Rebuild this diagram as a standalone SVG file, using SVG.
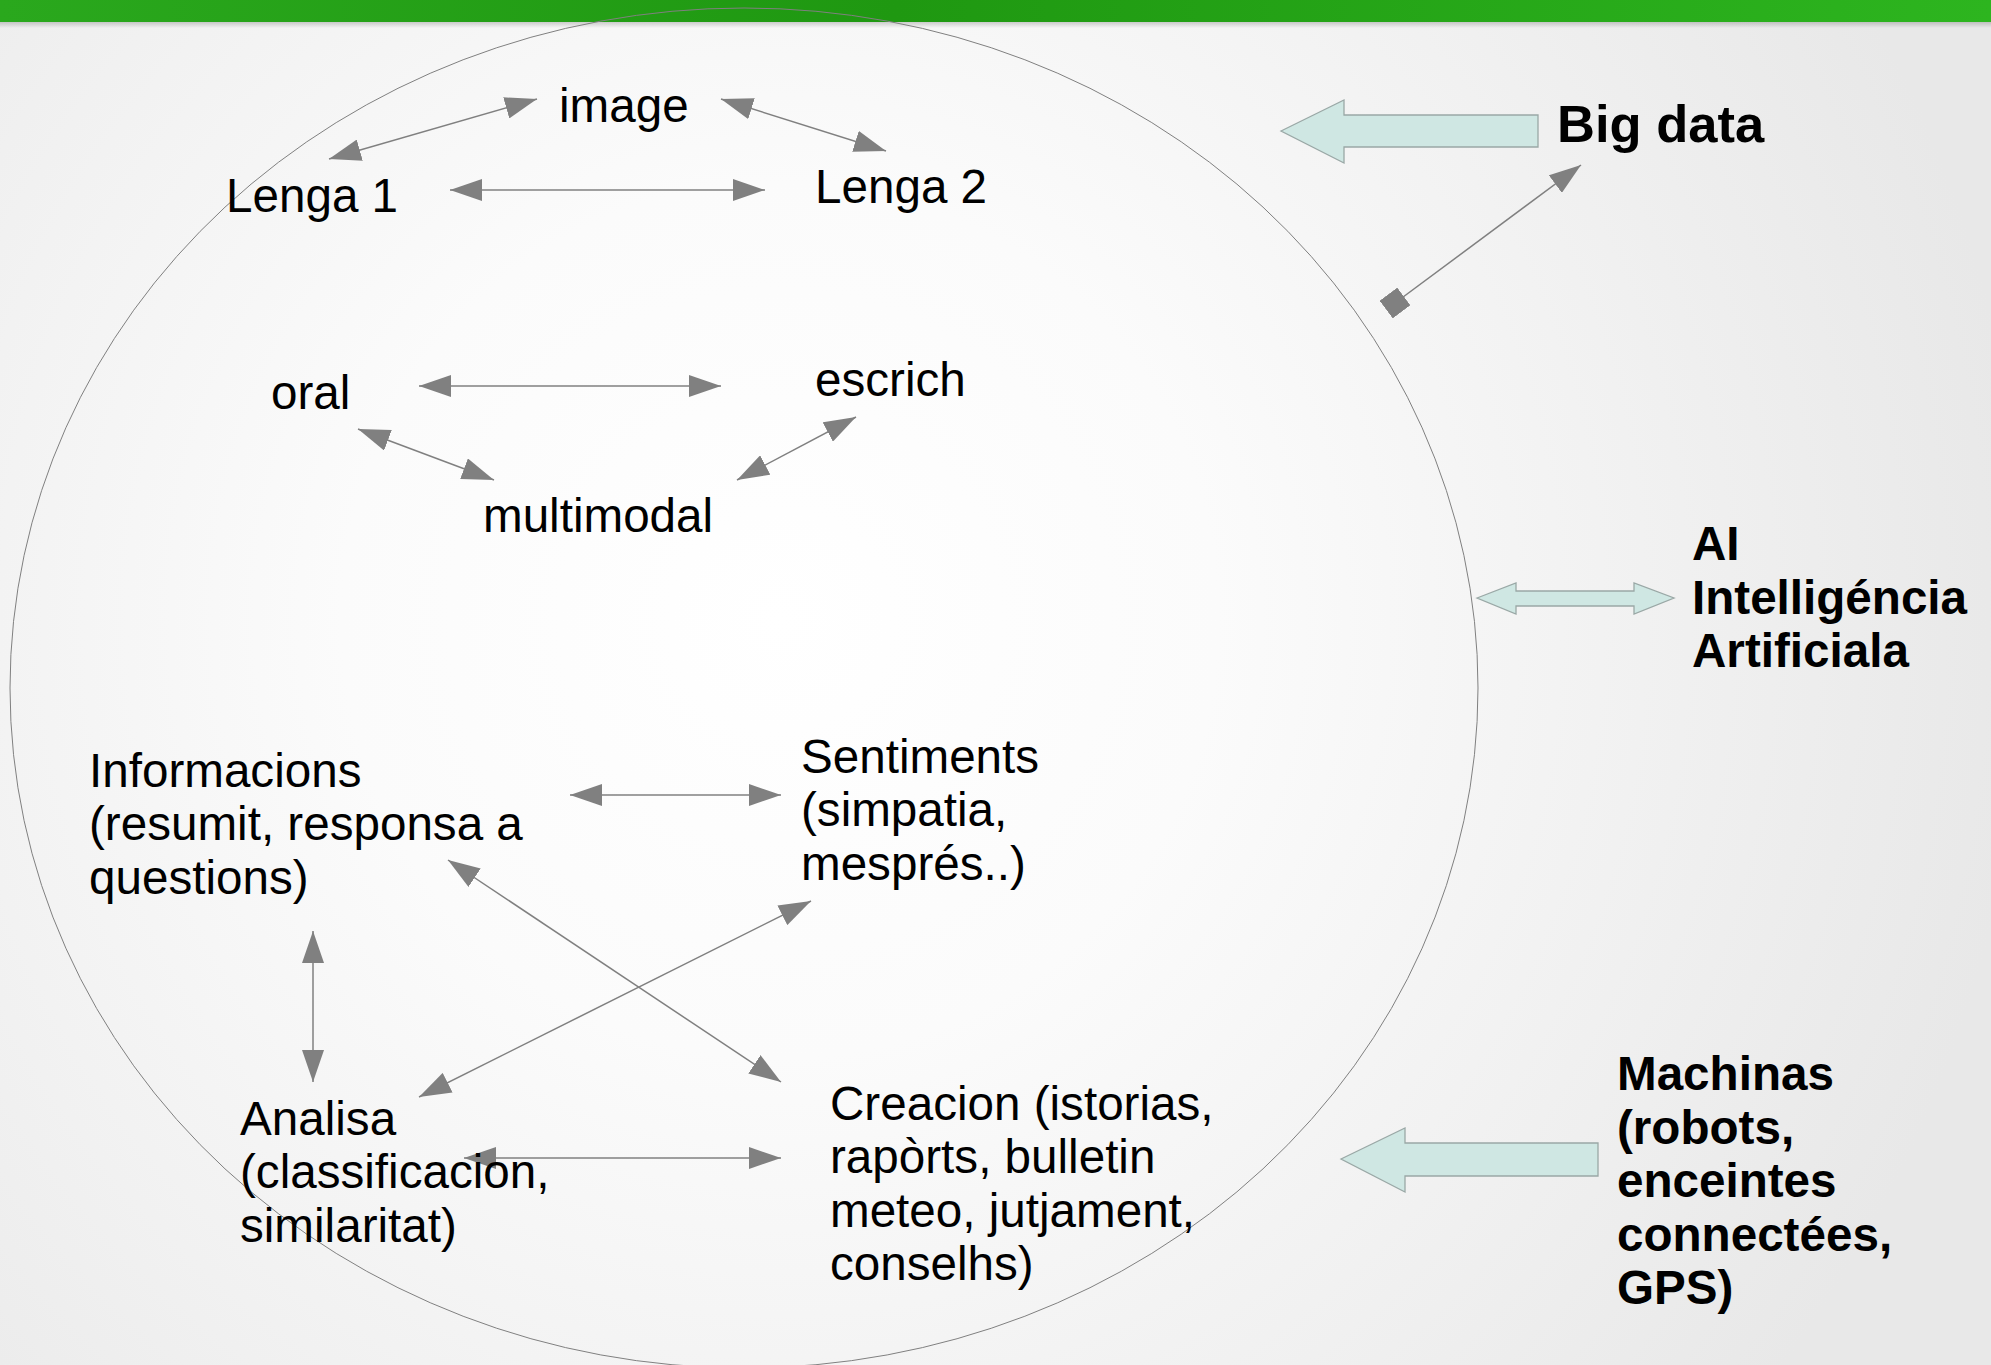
<svg xmlns="http://www.w3.org/2000/svg" width="1991" height="1365" viewBox="0 0 1991 1365">
<style>
.t{font-family:"Liberation Sans",Arial,sans-serif;font-size:47.6px;fill:#000}
.b{font-family:"Liberation Sans",Arial,sans-serif;font-size:47.6px;font-weight:bold;fill:#000}
.c{stroke:#808080;stroke-width:1.5;fill:none}
.ca{marker-start:url(#ah);marker-end:url(#ah)}
.blk{fill:#cfe7e3;stroke:#9aa8a6;stroke-width:1.3}
</style>
<defs>
<radialGradient id="bg" cx="780" cy="620" r="1250" gradientUnits="userSpaceOnUse">
<stop offset="0" stop-color="#ffffff"/>
<stop offset="0.35" stop-color="#fbfbfb"/>
<stop offset="1" stop-color="#e8e8e8"/>
</radialGradient>
<linearGradient id="bar" x1="0" y1="0" x2="1" y2="0">
<stop offset="0" stop-color="#2aa81d"/>
<stop offset="0.45" stop-color="#1f9811"/>
<stop offset="1" stop-color="#2db51f"/>
</linearGradient>
<linearGradient id="sh" x1="0" y1="0" x2="0" y2="1">
<stop offset="0" stop-color="#000" stop-opacity="0.18"/>
<stop offset="1" stop-color="#000" stop-opacity="0"/>
</linearGradient>
<marker id="ah" viewBox="0 0 32 22" refX="32" refY="11" markerWidth="32" markerHeight="22" markerUnits="userSpaceOnUse" orient="auto-start-reverse">
<path d="M0,0 L32,11 L0,22 z" fill="#808080"/>
</marker>
<marker id="sq" viewBox="0 0 22 22" refX="11" refY="11" markerWidth="22" markerHeight="22" markerUnits="userSpaceOnUse" orient="auto">
<path d="M0,0 L22,0 L22,22 L0,22 z" fill="#808080"/>
</marker>
</defs>
<rect width="1991" height="1365" fill="url(#bg)"/>
<rect x="0" y="22" width="1991" height="6" fill="url(#sh)"/>
<rect x="0" y="0" width="1991" height="22" fill="url(#bar)"/>

<ellipse id="circle" cx="744" cy="688" rx="734" ry="680" fill="none" stroke="#808080" stroke-width="1"/>

<g id="connectors">
<line class="c ca" x1="537" y1="99" x2="329" y2="159"/>
<line class="c ca" x1="721" y1="99" x2="886" y2="151"/>
<line class="c ca" x1="450" y1="190" x2="765" y2="190"/>
<line class="c ca" x1="419" y1="386" x2="721" y2="386"/>
<line class="c ca" x1="358" y1="429" x2="494" y2="480"/>
<line class="c ca" x1="856" y1="417" x2="737" y2="480"/>
<line class="c ca" x1="570" y1="795" x2="781" y2="795"/>
<line class="c ca" x1="313" y1="931" x2="313" y2="1082"/>
<line class="c ca" x1="448" y1="860" x2="781" y2="1082"/>
<line class="c ca" x1="419" y1="1097" x2="811" y2="901"/>
<line class="c ca" x1="464" y1="1158" x2="781" y2="1158"/>
<line class="c" x1="1395" y1="303" x2="1581" y2="165" marker-start="url(#sq)" marker-end="url(#ah)"/>
<path id="arrow-bigdata" class="blk" d="M1281,131 L1344,100 L1344,115 L1538,115 L1538,147 L1344,147 L1344,163 z"/>
<path id="arrow-ai" class="blk" d="M1477,598 L1516,583 L1516,591 L1634,591 L1634,583 L1674,598 L1634,614 L1634,606 L1516,606 L1516,614 z"/>
<path id="arrow-machinas" class="blk" d="M1341,1159 L1405,1128 L1405,1143 L1598,1143 L1598,1176 L1405,1176 L1405,1192 z"/>
</g>

<g id="n-image"><text class="t" x="559" y="122">image</text></g>
<g id="n-lenga1"><text class="t" x="226" y="212">Lenga 1</text></g>
<g id="n-lenga2"><text class="t" x="815" y="203">Lenga 2</text></g>
<g id="n-oral"><text class="t" x="271" y="409">oral</text></g>
<g id="n-escrich"><text class="t" x="815" y="396">escrich</text></g>
<g id="n-multimodal"><text class="t" x="483" y="532">multimodal</text></g>
<g id="n-informacions"><text class="t" x="89" y="787">Informacions<tspan x="89" dy="53.3">(resumit, responsa a</tspan><tspan x="89" dy="53.3">questions)</tspan></text></g>
<g id="n-sentiments"><text class="t" x="801" y="773">Sentiments<tspan x="801" dy="53.3">(simpatia,</tspan><tspan x="801" dy="53.3">mesprés..)</tspan></text></g>
<g id="n-analisa"><text class="t" x="240" y="1135">Analisa<tspan x="240" dy="53.3">(classificacion,</tspan><tspan x="240" dy="53.3">similaritat)</tspan></text></g>
<g id="n-creacion"><text class="t" x="830" y="1120">Creacion (istorias,<tspan x="830" dy="53.3">rapòrts, bulletin</tspan><tspan x="830" dy="53.3">meteo, jutjament,</tspan><tspan x="830" dy="53.3">conselhs)</tspan></text></g>
<g id="n-bigdata"><text class="b" x="1557" y="142" style="font-size:52.5px">Big data</text></g>
<g id="n-ai"><text class="b" x="1692" y="560">AI<tspan x="1692" dy="53.5">Intelligéncia</tspan><tspan x="1692" dy="53.5">Artificiala</tspan></text></g>
<g id="n-machinas"><text class="b" x="1617" y="1090">Machinas<tspan x="1617" dy="53.5">(robots,</tspan><tspan x="1617" dy="53.5">enceintes</tspan><tspan x="1617" dy="53.5">connectées,</tspan><tspan x="1617" dy="53.5">GPS)</tspan></text></g>
</svg>
